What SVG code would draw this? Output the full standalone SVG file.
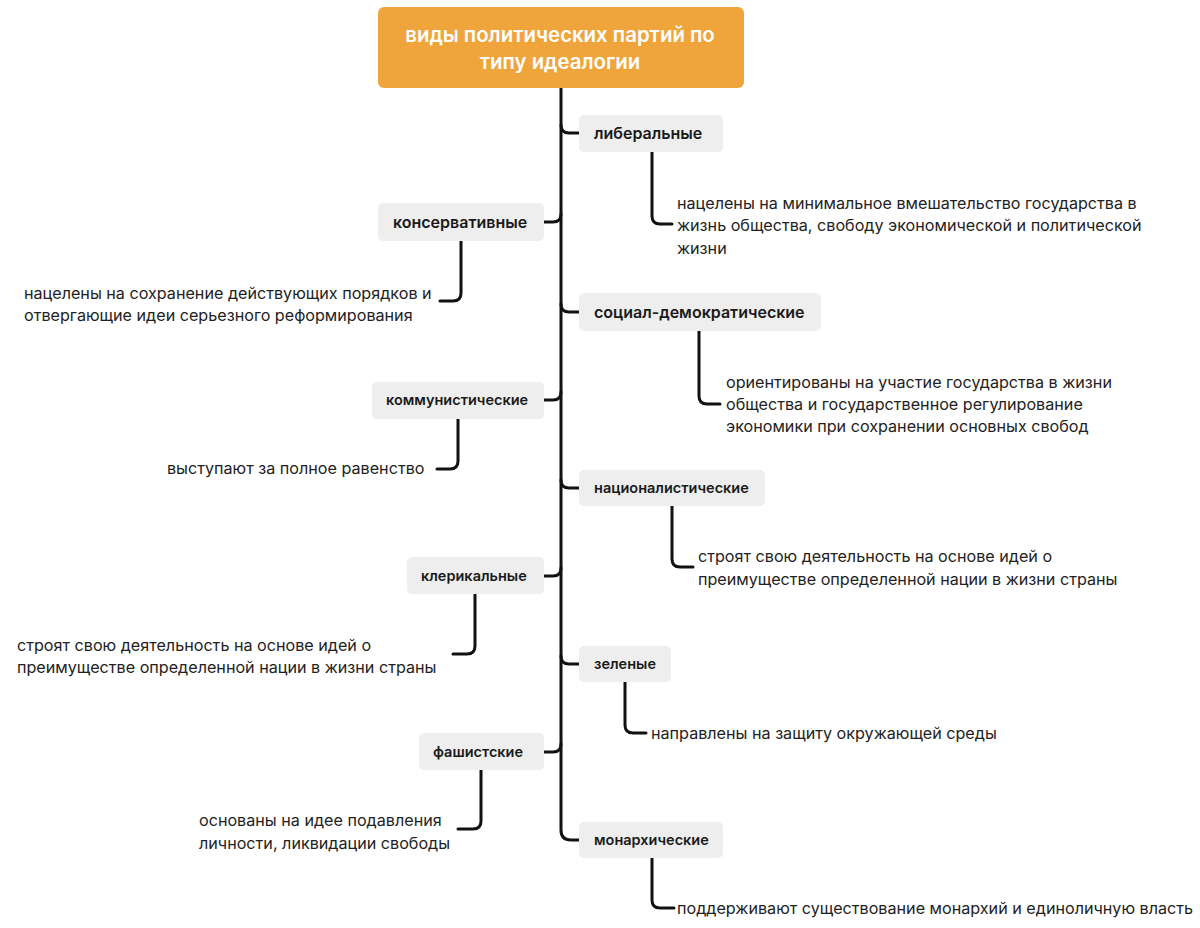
<svg xmlns="http://www.w3.org/2000/svg" width="1200" height="928" viewBox="0 0 1200 928">
<style>
.bg{fill:#ffffff}
.root{fill:#F0A53C}
.rt{fill:#ffffff;font-family:Inter,"Noto Sans",sans-serif;font-size:20.4px;font-weight:600;text-anchor:middle}
.box{fill:#EEEEEE}
.lb{fill:#1a1a1a;font-family:Inter,"Noto Sans",sans-serif;font-size:16px;font-weight:600}
.ls{fill:#1a1a1a;font-family:Inter,"Noto Sans",sans-serif;font-size:14.5px;font-weight:600}
.tx{fill:#222222;font-family:Inter,"Noto Sans",sans-serif;font-size:16.15px}
.ln{fill:none;stroke:#111111;stroke-width:3;stroke-linecap:round;stroke-linejoin:round}
</style>
<rect class="bg" x="0" y="0" width="1200" height="928"/>
<g id="connectors">
<path class="ln" d="M561,88 L561,830 Q561,840 571,840 L579,840"/>
<path class="ln" d="M561,125 Q561,133 569,133 L579,133"/>
<path class="ln" d="M561,214 Q561,222 553,222 L544,222"/>
<path class="ln" d="M561,304 Q561,312 569,312 L579,312"/>
<path class="ln" d="M561,392 Q561,400 553,400 L544,400"/>
<path class="ln" d="M561,480 Q561,488 569,488 L579,488"/>
<path class="ln" d="M561,568 Q561,576 553,576 L544,576"/>
<path class="ln" d="M561,656 Q561,664 569,664 L579,664"/>
<path class="ln" d="M561,744 Q561,752 553,752 L544,752"/>
<path class="ln" d="M652,152 L652,216 Q652,224 660,224 L672,224"/>
<path class="ln" d="M461,241 L461,293 Q461,301 453,301 L440,301"/>
<path class="ln" d="M699,331 L699,396 Q699,404 707,404 L720,404"/>
<path class="ln" d="M458,419 L458,461 Q458,469 450,469 L437,469"/>
<path class="ln" d="M672,506 L672,559 Q672,567 680,567 L693,567"/>
<path class="ln" d="M475,594 L475,646 Q475,654 467,654 L453,654"/>
<path class="ln" d="M625,682 L625,725 Q625,733 633,733 L646,733"/>
<path class="ln" d="M481,770 L481,821 Q481,829 473,829 L458,829"/>
<path class="ln" d="M652,858 L652,900 Q652,908 660,908 L674,908"/>
</g>
<g id="root">
<rect class="root" x="378" y="7" width="366" height="81" rx="6"/>
<text class="rt" x="560" y="42">виды политических партий по</text>
<text class="rt" x="560" y="69">типу идеалогии</text>
</g>
<g id="liberal">
<rect class="box" x="579" y="115" width="144" height="37" rx="5"/>
<text class="lb" x="594" y="139">либеральные</text>
<text class="tx" x="677" y="209">нацелены на минимальное вмешательство государства в</text>
<text class="tx" x="677" y="231">жизнь общества, свободу экономической и политической</text>
<text class="tx" x="677" y="254">жизни</text>
</g>
<g id="conservative">
<rect class="box" x="378" y="203" width="166" height="38" rx="5"/>
<text class="lb" x="393" y="228">консервативные</text>
<text class="tx" x="24" y="299">нацелены на сохранение действующих порядков и</text>
<text class="tx" x="24" y="321">отвергающие идеи серьезного реформирования</text>
</g>
<g id="socdem">
<rect class="box" x="579" y="293" width="242" height="38" rx="5"/>
<text class="lb" x="594" y="318">социал-демократические</text>
<text class="tx" x="726" y="388">ориентированы на участие государства в жизни</text>
<text class="tx" x="726" y="410">общества и государственное регулирование</text>
<text class="tx" x="726" y="432">экономики при сохранении основных свобод</text>
</g>
<g id="communist">
<rect class="box" x="372" y="382" width="172" height="37" rx="5"/>
<text class="ls" x="386" y="405">коммунистические</text>
<text class="tx" x="167" y="474">выступают за полное равенство</text>
</g>
<g id="nationalist">
<rect class="box" x="579" y="470" width="186" height="36" rx="5"/>
<text class="ls" x="594" y="493">националистические</text>
<text class="tx" x="698" y="562">строят свою деятельность на основе идей о</text>
<text class="tx" x="698" y="585">преимуществе определенной нации в жизни страны</text>
</g>
<g id="clerical">
<rect class="box" x="407" y="557" width="137" height="37" rx="5"/>
<text class="ls" x="421" y="581">клерикальные</text>
<text class="tx" x="17" y="651">строят свою деятельность на основе идей о</text>
<text class="tx" x="17" y="673">преимуществе определенной нации в жизни страны</text>
</g>
<g id="green">
<rect class="box" x="579" y="646" width="92" height="36" rx="5"/>
<text class="ls" x="594" y="669">зеленые</text>
<text class="tx" x="651" y="739">направлены на защиту окружающей среды</text>
</g>
<g id="fascist">
<rect class="box" x="419" y="733" width="125" height="37" rx="5"/>
<text class="ls" x="433" y="757">фашистские</text>
<text class="tx" x="199" y="826">основаны на идее подавления</text>
<text class="tx" x="199" y="849">личности, ликвидации свободы</text>
</g>
<g id="monarchic">
<rect class="box" x="579" y="822" width="144" height="36" rx="5"/>
<text class="ls" x="594" y="845">монархические</text>
<text class="tx" x="677" y="914">поддерживают существование монархий и единоличную власть</text>
</g>
</svg>
